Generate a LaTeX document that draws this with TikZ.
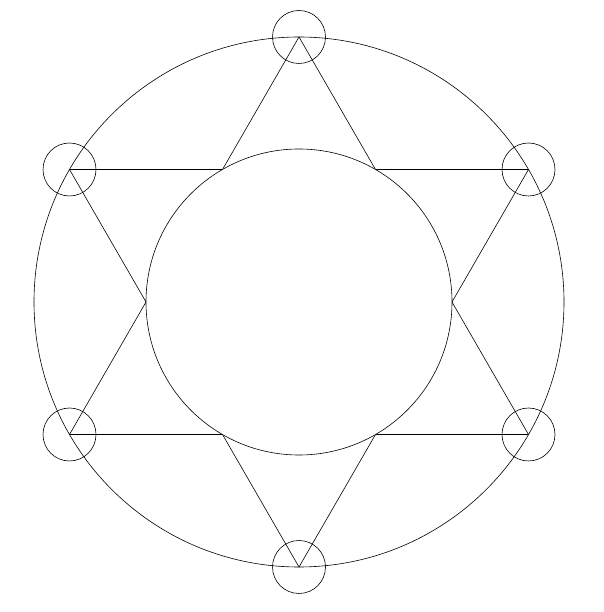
\documentclass[tikz,border=0pt]{standalone}
\begin{document}
\begin{tikzpicture}[x=0.0265cm,y=0.0265cm,line width=0.45pt]
	\useasboundingbox (0,0) rectangle (603,612);
	\coordinate (O) at (299,310);
	\draw (O) circle (265);
	% hexagram vertices
	\foreach \a [count=\i] in {90,150,210,270,330,30}
		\path (O) ++(\a:265) coordinate (v\i);
	\draw (v1)--(v3)--(v5)--cycle;
	\draw (v2)--(v4)--(v6)--cycle;
	\draw[fill=white] (O) circle (153);
	\foreach \i in {1,...,6}
		\draw (v\i) circle (26.5);
\end{tikzpicture}
\end{document}
